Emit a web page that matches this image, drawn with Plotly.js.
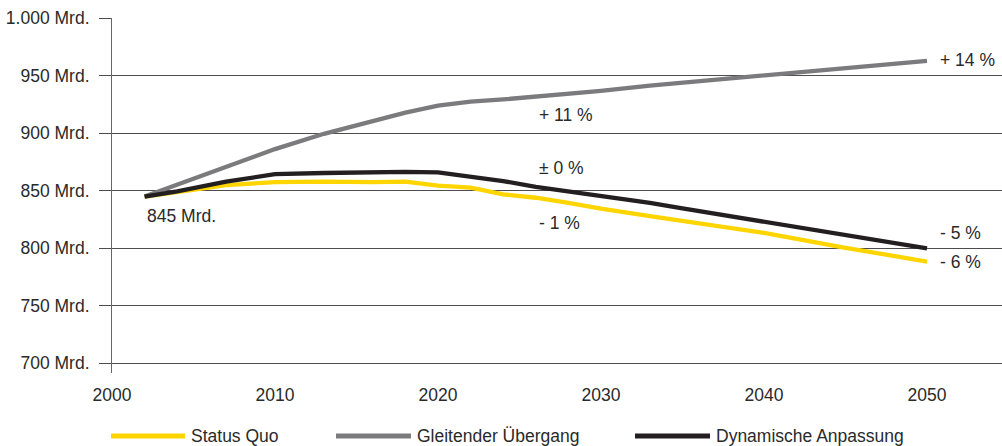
<!DOCTYPE html>
<html>
<head>
<meta charset="utf-8">
<script src="https://cdn.plot.ly/plotly-3.0.1.min.js"></script>
<style>
  html, body { margin: 0; padding: 0; background: #ffffff; }
  #chart { width: 1002px; height: 446px; }
</style>
</head>
<body>
<div id="chart"></div>
<script>
// Jahre und Werte der drei Szenarien (in Mrd.)
const years = [2002, 2004, 2007, 2010, 2013, 2016, 2018, 2020, 2022, 2024, 2026, 2028, 2030, 2033, 2035, 2040, 2045, 2050];
const statusQuo = [845, 849, 855, 857.5, 858, 857.5, 858, 854.5, 852.8, 847, 844, 839.5, 834.5, 828, 824, 813.5, 800.5, 788.5];
const gleitenderUebergang = [845, 855.3, 870.8, 886.3, 899.6, 911.2, 918, 924, 927.5, 929.5, 931.8, 934, 937, 941.5, 944, 950.5, 957, 963];
const dynamischeAnpassung = [845, 849.5, 858, 864.5, 865.5, 866.5, 866.5, 866, 862.5, 858.5, 853.5, 849.5, 846, 839.5, 834.7, 823.2, 811.6, 800];

const seriesNames = ['Status Quo', 'Gleitender Übergang', 'Dynamische Anpassung'];
const seriesColors = ['#ffd500', '#7b7b7e', '#231f20'];

const xTickVals = [2000, 2010, 2020, 2030, 2040, 2050];
const xTickText = ['2000', '2010', '2020', '2030', '2040', '2050'];
const yTickVals = [700, 750, 800, 850, 900, 950, 1000];
const yTickText = ['700 Mrd.', '750 Mrd.', '800 Mrd.', '850 Mrd.', '900 Mrd.', '950 Mrd.', '1.000 Mrd.'];

// Beschriftungen im Diagramm: [Text, Jahr, Wert]
const labelTexts = ['845 Mrd.', '+ 14 %', '+ 11 %', '± 0 %', '- 1 %', '- 5 %', '- 6 %'];
const labelYears = [2002, 2050.7, 2026.05, 2026.05, 2026.05, 2050.7, 2050.7];
const labelValues = [828, 963.5, 916, 870, 822, 813.3, 788.3];

const FONT = 'Liberation Sans, Arial, Helvetica, sans-serif';
const TEXT = '#2a2a2a';
const FS = 17.5;

const valueSets = [statusQuo, gleitenderUebergang, dynamischeAnpassung];
const traces = valueSets.map((vals, i) => ({
  type: 'scatter',
  mode: 'lines',
  name: seriesNames[i],
  x: years,
  y: vals,
  line: { color: seriesColors[i], width: 4.3, shape: 'linear' },
  hoverinfo: 'x+y+name'
}));

const annotations = labelTexts.map((t, i) => ({
  text: t,
  x: labelYears[i],
  y: labelValues[i],
  xref: 'x', yref: 'y',
  xanchor: 'left', yanchor: 'middle',
  showarrow: false,
  font: { family: FONT, size: FS, color: TEXT }
}));

// Legende unterhalb des Diagramms
const plotLeft = 112, plotWidth = 890, plotBottom = 373, plotHeight = 355;
const legendY = 436;
const legendLineX = [[111, 185], [336, 411], [635, 710]];
const toPx = X => (X - plotLeft) / plotWidth;
const toPy = Y => (plotBottom - Y) / plotHeight;

const shapes = [];
seriesNames.forEach((n, i) => {
  shapes.push({
    type: 'line', xref: 'paper', yref: 'paper',
    x0: toPx(legendLineX[i][0]), x1: toPx(legendLineX[i][1]),
    y0: toPy(legendY), y1: toPy(legendY),
    line: { color: seriesColors[i], width: 5 }
  });
  annotations.push({
    text: n,
    x: toPx(legendLineX[i][1] + 4), y: toPy(legendY),
    xref: 'paper', yref: 'paper',
    xanchor: 'left', yanchor: 'middle',
    showarrow: false,
    font: { family: FONT, size: FS, color: TEXT }
  });
});

const layout = {
  width: 1002,
  height: 446,
  margin: { l: plotLeft, r: 0, t: 18, b: 73, pad: 0 },
  paper_bgcolor: '#ffffff',
  plot_bgcolor: '#ffffff',
  showlegend: false,
  font: { family: FONT, size: FS, color: TEXT },
  xaxis: {
    range: [2000, 2054.6],
    tickvals: xTickVals,
    ticktext: xTickText,
    showgrid: false,
    zeroline: false,
    showline: false,
    ticks: '',
    ticklabelstandoff: 9,
    tickfont: { family: FONT, size: FS, color: TEXT },
    fixedrange: true
  },
  yaxis: {
    range: [691.6, 1000.3],
    tickvals: yTickVals,
    ticktext: yTickText,
    showgrid: true,
    gridcolor: '#4d4d4d',
    gridwidth: 1,
    zeroline: false,
    showline: true,
    linecolor: '#666666',
    linewidth: 1,
    ticks: 'outside',
    ticklen: 12,
    tickwidth: 1,
    tickcolor: '#4d4d4d',
    ticklabelstandoff: 6,
    tickfont: { family: FONT, size: FS, color: TEXT },
    fixedrange: true
  },
  shapes: shapes,
  annotations: annotations
};

Plotly.newPlot('chart', traces, layout, { displayModeBar: false, staticPlot: true });
</script>
</body>
</html>
